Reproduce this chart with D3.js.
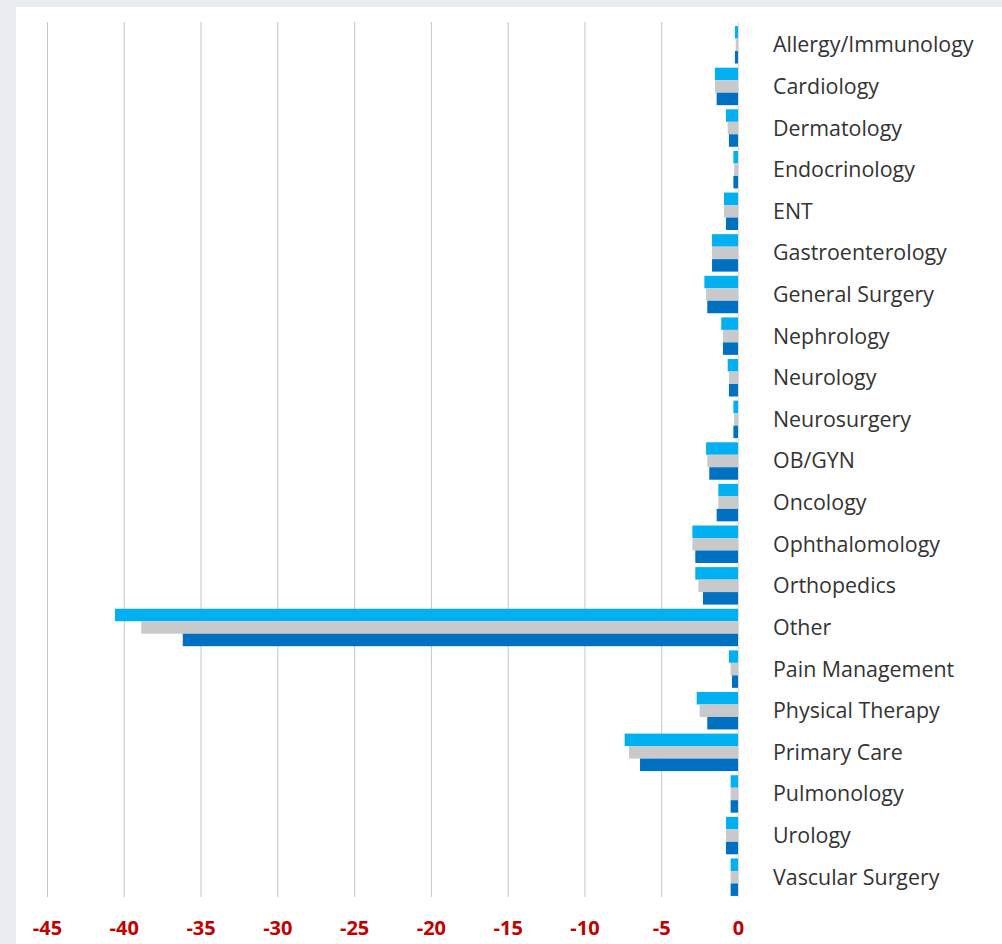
<!DOCTYPE html>
<html lang="en">
<head>
<meta charset="utf-8">
<title>Specialty Change</title>
<script src="https://d3js.org/d3.v7.min.js"></script>
<style>
  html, body { margin: 0; padding: 0; background: #e9ecf0; }
  #panel { position: absolute; left: 16px; top: 7px; width: 986px; height: 937px; background: #fff; }
  svg { position: absolute; left: 0; top: 0; }
</style>
</head>
<body>
<div id="panel"></div>
<script>
// categories, top to bottom
var specialties = ["Allergy/Immunology", "Cardiology", "Dermatology", "Endocrinology", "ENT",
  "Gastroenterology", "General Surgery", "Nephrology", "Neurology", "Neurosurgery", "OB/GYN",
  "Oncology", "Ophthalomology", "Orthopedics", "Other", "Pain Management", "Physical Therapy",
  "Primary Care", "Pulmonology", "Urology", "Vascular Surgery"];

// three series (light blue, gray, dark blue)
var seriesA = [-0.2, -1.5, -0.78, -0.3, -0.91, -1.69, -2.19, -1.09, -0.67, -0.3, -2.08,
  -1.28, -2.97, -2.78, -40.57, -0.59, -2.69, -7.38, -0.48, -0.78, -0.48];
var seriesB = [-0.15, -1.5, -0.67, -0.25, -0.91, -1.69, -2.08, -0.98, -0.59, -0.25, -2.0,
  -1.28, -2.97, -2.58, -38.86, -0.48, -2.5, -7.1, -0.48, -0.78, -0.48];
var seriesC = [-0.2, -1.39, -0.59, -0.3, -0.78, -1.69, -2.0, -0.98, -0.59, -0.3, -1.87,
  -1.39, -2.78, -2.28, -36.16, -0.39, -2.0, -6.38, -0.48, -0.78, -0.48];

var tickValues = [-45, -40, -35, -30, -25, -20, -15, -10, -5, 0];
var seriesNames = ["a", "b", "c"];
var colors = ["#00b0f0", "#c8c9cb", "#0070c0"];

var width = 1002, height = 944;
var x = d3.scaleLinear().domain([-45, 0]).range([47, 738]);
var y = d3.scaleBand().domain(specialties).range([24, 898]).paddingInner(0.1).paddingOuter(0.05);
var ySub = d3.scaleBand().domain(seriesNames).range([0, y.bandwidth()]);

var svg = d3.select("body").append("svg")
  .attr("width", width)
  .attr("height", height);

// vertical gridlines
svg.append("g")
  .selectAll("line")
  .data(tickValues)
  .enter()
  .append("line")
  .attr("x1", function(d) { return x(d) + 0.5; })
  .attr("x2", function(d) { return x(d) + 0.5; })
  .attr("y1", 22)
  .attr("y2", 897)
  .style("stroke", function(d) { return d === 0 ? "#dcdcdc" : "#c4c4c4"; })
  .style("stroke-width", 1);

var rows = svg.append("g")
  .selectAll("g")
  .data(specialties)
  .enter()
  .append("g")
  .attr("transform", function(d) { return "translate(0," + y(d) + ")"; });

var all = [seriesA, seriesB, seriesC];
rows.selectAll("rect")
  .data(function(d, i) {
    return seriesNames.map(function(s, j) { return {s: s, v: all[j][i], c: colors[j]}; });
  })
  .enter()
  .append("rect")
  .attr("x", function(d) { return x(d.v); })
  .attr("width", function(d) { return x(0) - x(d.v); })
  .attr("y", function(d) { return ySub(d.s); })
  .attr("height", ySub.bandwidth())
  .style("fill", function(d) { return d.c; });

// category labels on the right
svg.append("g")
  .selectAll("text")
  .data(specialties)
  .enter()
  .append("text")
  .attr("x", 773)
  .attr("y", function(d) { return y(d) + y.bandwidth() / 2; })
  .attr("dy", "0.35em")
  .style("font-family", "'Open Sans', sans-serif")
  .style("font-size", "21.4px")
  .style("fill", "#333")
  .text(function(d) { return d; });

// bottom axis labels (plain hyphen minus, like the original)
var xAxis = d3.axisBottom(x).tickValues(tickValues).tickSize(0).tickPadding(0)
  .tickFormat(function(d) { return String(d); });
var ax = svg.append("g")
  .attr("transform", "translate(0,922)")
  .call(xAxis);
ax.select(".domain").remove();
ax.selectAll("text")
  .attr("dy", "0.35em")
  .attr("y", 6)
  .style("font-family", "'Open Sans', sans-serif")
  .style("font-size", "20px")
  .style("font-weight", "bold")
  .style("fill", "#c00000");
</script>
</body>
</html>
